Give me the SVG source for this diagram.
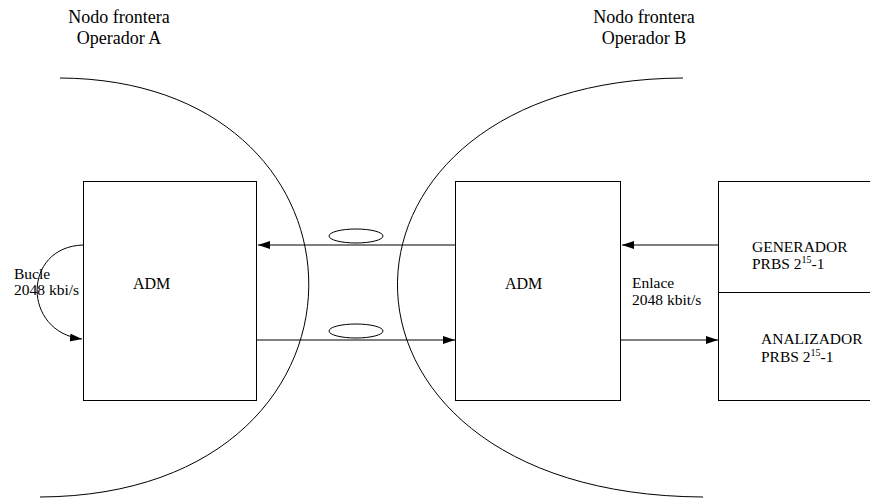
<svg xmlns="http://www.w3.org/2000/svg" width="870" height="499" viewBox="0 0 870 499">
<style>
text{font-family:'Liberation Serif','DejaVu Serif',serif;fill:#000}
.t18{font-size:18px}
.t16{font-size:16px}
.t15{font-size:15.5px}
.box{fill:#fff;stroke:#000;stroke-width:1}
.ln{fill:none;stroke:#000;stroke-width:1}
.sup{font-size:10px}
</style>
<defs>
<marker id="ah" markerUnits="userSpaceOnUse" markerWidth="13" markerHeight="9" refX="12" refY="4" orient="auto">
<path d="M0,0 L12,4 L0,8 z" fill="#000"/>
</marker>
</defs>
<rect width="870" height="499" fill="#fff"/>
<g id="borders">
<path class="ln" d="M60,78 C392,80 398,495 40,497"/>
<path class="ln" d="M683,78 C302,80 296,495 703,497"/>
</g>
<g font-family="Liberation Serif, DejaVu Serif, serif">
<g id="labelA">
<text class="t18" x="119" y="23" text-anchor="middle">Nodo frontera</text>
<text class="t18" x="119" y="44" text-anchor="middle">Operador A</text>
</g>
<g id="labelB">
<text class="t18" x="644" y="23" text-anchor="middle">Nodo frontera</text>
<text class="t18" x="644" y="44" text-anchor="middle">Operador B</text>
</g>
<g id="admA">
<rect class="box" x="83.5" y="181.5" width="173" height="219"/>
<text class="t16" x="133" y="289">ADM</text>
</g>
<g id="admB">
<rect class="box" x="455.5" y="181.5" width="165" height="219"/>
<text class="t16" x="505" y="289">ADM</text>
</g>
<g id="generador">
<rect class="box" x="718.5" y="181.5" width="200" height="111"/>
<text class="t15" x="752" y="252">GENERADOR</text>
<text class="t15" x="752" y="269">PRBS 2<tspan class="sup" dy="-6">15</tspan><tspan dy="6">-1</tspan></text>
</g>
<g id="analizador">
<rect class="box" x="718.5" y="292.5" width="200" height="108"/>
<text class="t15" x="761" y="344">ANALIZADOR</text>
<text class="t15" x="761" y="362">PRBS 2<tspan class="sup" dy="-6">15</tspan><tspan dy="6">-1</tspan></text>
</g>
<g id="connectors">
<line class="ln" x1="455" y1="245" x2="258" y2="245" marker-end="url(#ah)"/>
<line class="ln" x1="257" y1="340" x2="455" y2="340" marker-end="url(#ah)"/>
<line class="ln" x1="718" y1="245" x2="622" y2="245" marker-end="url(#ah)"/>
<line class="ln" x1="621" y1="340" x2="718" y2="340" marker-end="url(#ah)"/>
<path class="ln" d="M83,245 C22,247 22,332 82,339" marker-end="url(#ah)"/>
<ellipse class="ln" cx="356" cy="236" rx="27" ry="7"/>
<ellipse class="ln" cx="356" cy="331" rx="27" ry="7"/>
</g>
<g id="linkLabels">
<text class="t15" x="14" y="279">Bucle</text>
<text class="t15" x="14" y="295">2048 kbi/s</text>
<text class="t15" x="632" y="288">Enlace</text>
<text class="t15" x="632" y="305">2048 kbit/s</text>
</g>
</g>
</svg>
